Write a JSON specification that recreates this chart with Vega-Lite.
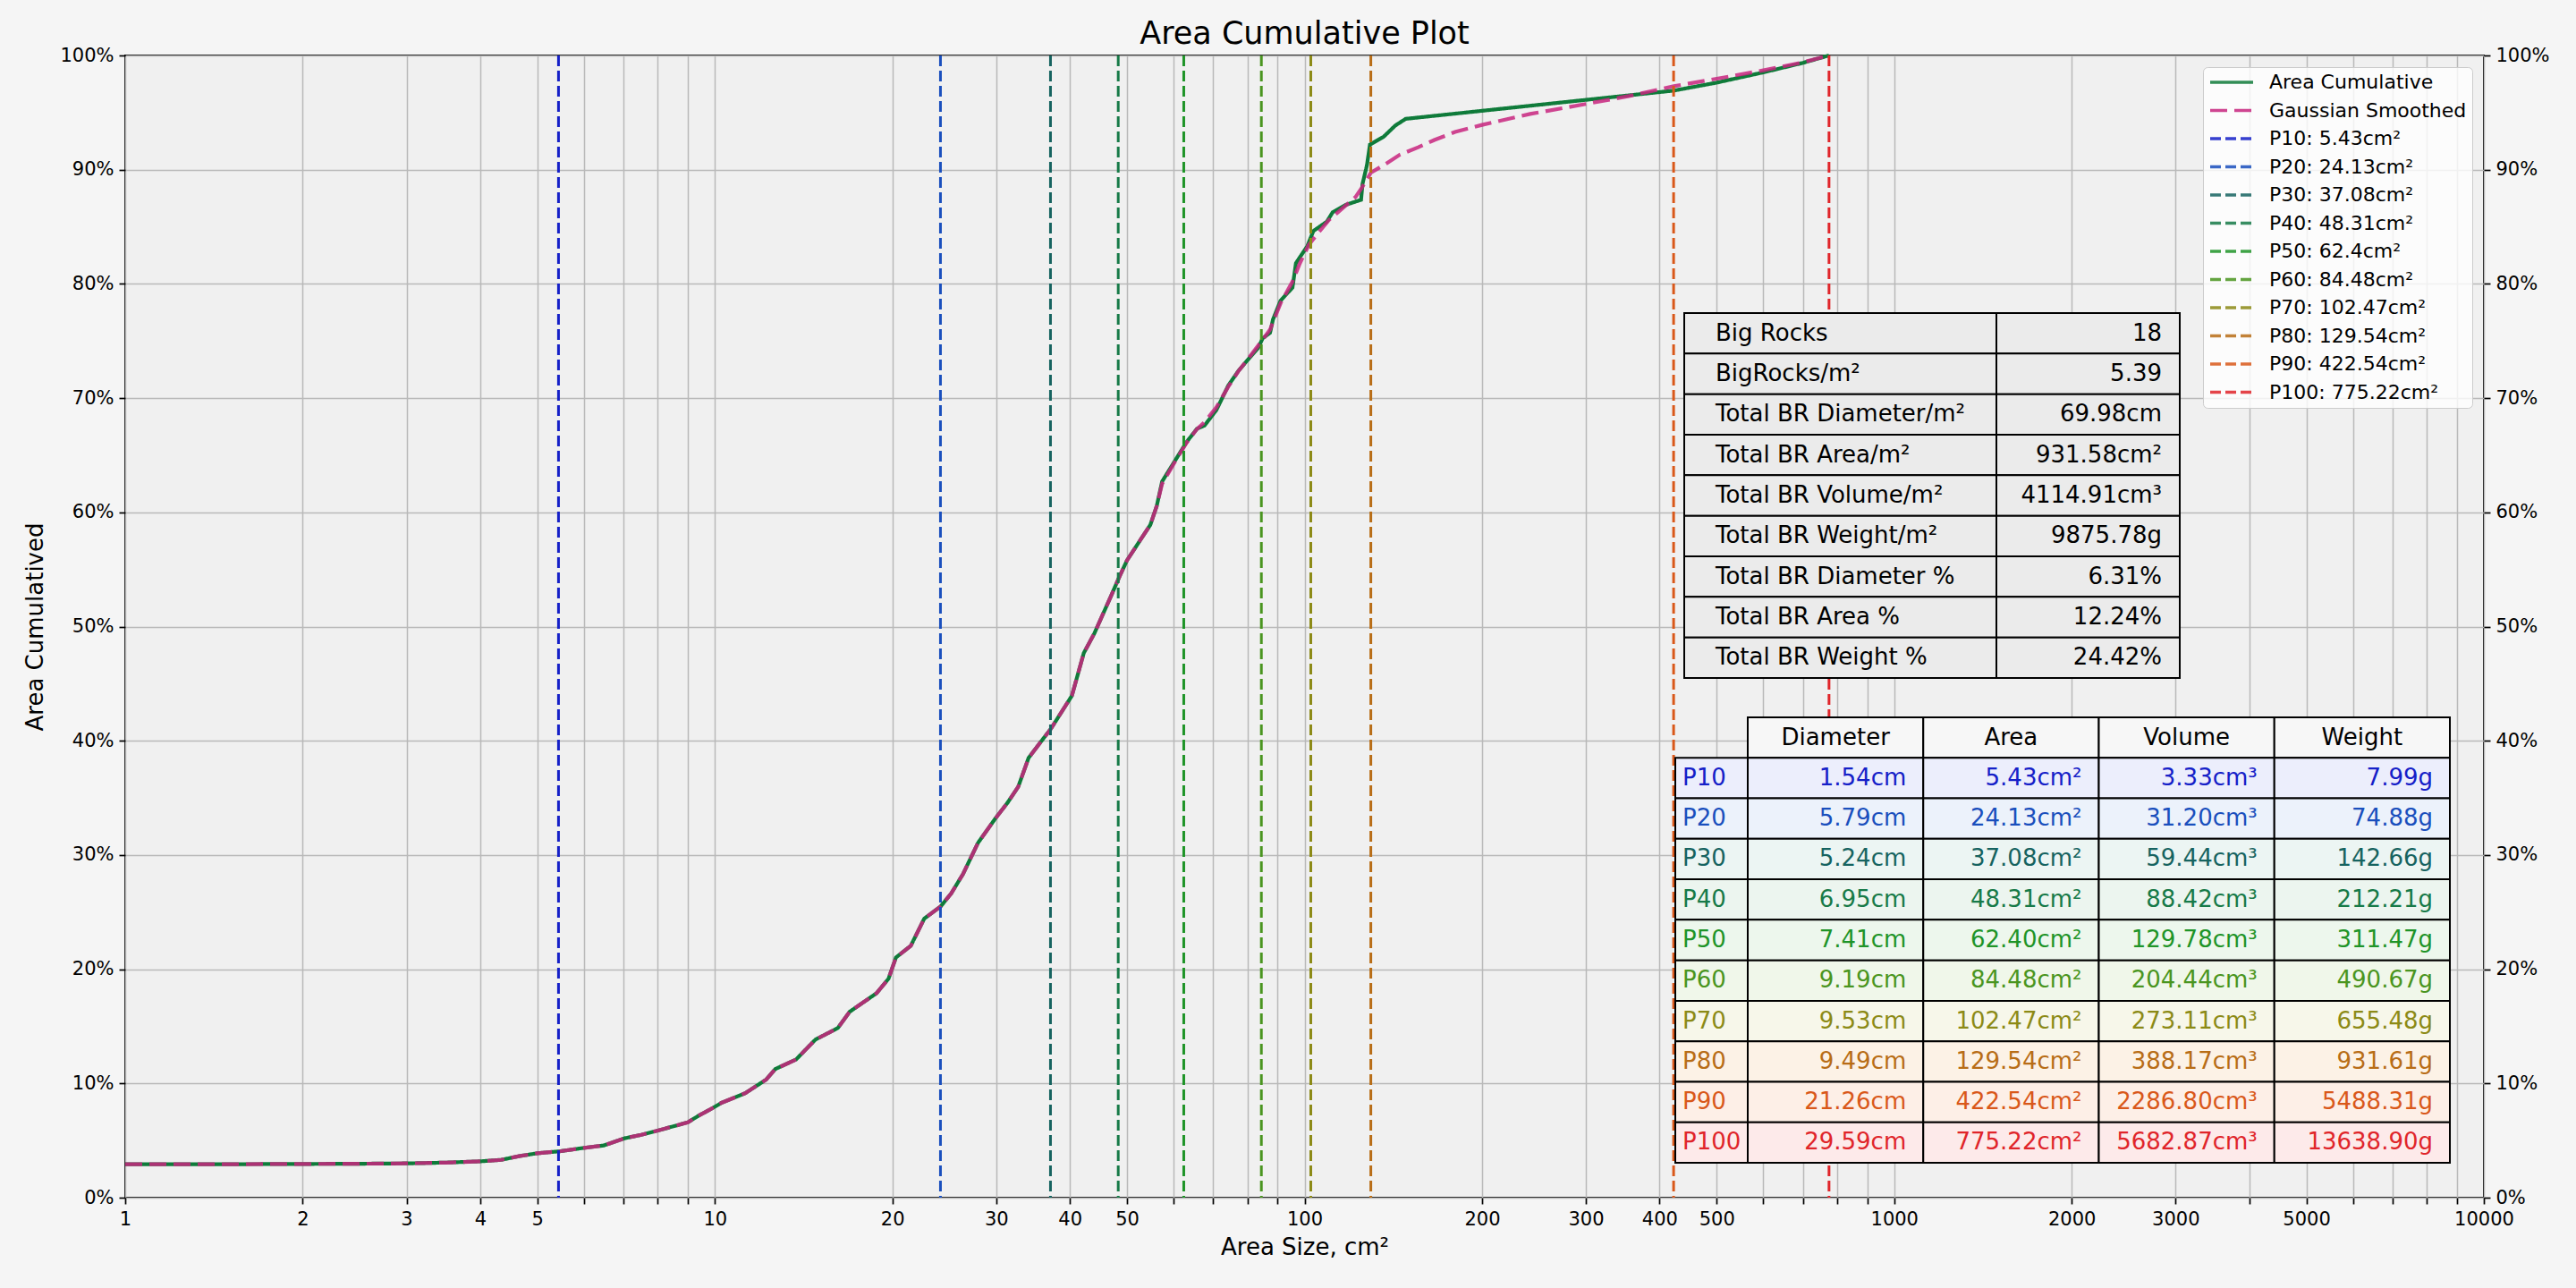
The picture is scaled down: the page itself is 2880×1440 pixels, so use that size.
{
  "$schema": "https://vega.github.io/schema/vega-lite/v6.json",
  "width": 2637,
  "height": 1277,
  "autosize": {"type": "none"},
  "padding": {"left": 140, "top": 62, "right": 103, "bottom": 101},
  "background": "#f5f5f5",
  "config": {
    "font": "DejaVu Sans",
    "view": {"fill": "#f0f0f0", "stroke": "#000000", "strokeWidth": 2},
    "axis": {
      "labelFontSize": 21,
      "labelColor": "#000000",
      "labelFont": "DejaVu Sans",
      "titleFont": "DejaVu Sans",
      "titleFontSize": 26,
      "titleFontWeight": "normal",
      "titleColor": "#000000",
      "tickColor": "#000000",
      "tickWidth": 1.7,
      "tickSize": 7,
      "labelPadding": 6,
      "domain": false,
      "gridColor": "#b9b9b9",
      "gridWidth": 1.5,
      "labelFlush": false,
      "labelOverlap": false,
      "labelBound": false
    },
    "legend": {
      "orient": "none",
      "legendX": 2323,
      "legendY": 13,
      "symbolType": "stroke",
      "symbolSize": 2304,
      "symbolStrokeWidth": 3.5,
      "clipHeight": 22,
      "labelFontSize": 22,
      "labelColor": "#000000",
      "labelFont": "DejaVu Sans",
      "labelOffset": 16,
      "rowPadding": 9.5,
      "padding": 6,
      "fillColor": "rgba(255,255,255,0.8)",
      "strokeColor": "#cccccc",
      "cornerRadius": 5,
      "labelLimit": 400
    }
  },
  "title": {"text": "Area Cumulative Plot", "fontSize": 35, "fontWeight": "normal", "color": "#000000", "offset": -5, "frame": "group", "anchor": "middle", "font": "DejaVu Sans"},
  "datasets": {
    "cum": [
      {"series": "Area Cumulative", "area": 1, "pct": 2.92}, {"series": "Area Cumulative", "area": 1.5, "pct": 2.93}, {"series": "Area Cumulative", "area": 2, "pct": 2.95}, {"series": "Area Cumulative", "area": 2.5, "pct": 2.97},
      {"series": "Area Cumulative", "area": 3, "pct": 3.0}, {"series": "Area Cumulative", "area": 3.5, "pct": 3.07}, {"series": "Area Cumulative", "area": 4, "pct": 3.18}, {"series": "Area Cumulative", "area": 4.34, "pct": 3.31},
      {"series": "Area Cumulative", "area": 4.65, "pct": 3.63}, {"series": "Area Cumulative", "area": 5.0, "pct": 3.89}, {"series": "Area Cumulative", "area": 5.44, "pct": 4.05}, {"series": "Area Cumulative", "area": 6.0, "pct": 4.36},
      {"series": "Area Cumulative", "area": 6.48, "pct": 4.57}, {"series": "Area Cumulative", "area": 7.03, "pct": 5.2}, {"series": "Area Cumulative", "area": 7.5, "pct": 5.5}, {"series": "Area Cumulative", "area": 8.0, "pct": 5.87},
      {"series": "Area Cumulative", "area": 8.72, "pct": 6.4}, {"series": "Area Cumulative", "area": 9.0, "pct": 6.6}, {"series": "Area Cumulative", "area": 9.4, "pct": 7.2}, {"series": "Area Cumulative", "area": 9.8, "pct": 7.7},
      {"series": "Area Cumulative", "area": 10.26, "pct": 8.3}, {"series": "Area Cumulative", "area": 11.26, "pct": 9.15}, {"series": "Area Cumulative", "area": 12.22, "pct": 10.34}, {"series": "Area Cumulative", "area": 12.66, "pct": 11.26},
      {"series": "Area Cumulative", "area": 13.73, "pct": 12.1}, {"series": "Area Cumulative", "area": 14.81, "pct": 13.84}, {"series": "Area Cumulative", "area": 16.16, "pct": 14.85}, {"series": "Area Cumulative", "area": 16.93, "pct": 16.28},
      {"series": "Area Cumulative", "area": 18.8, "pct": 17.9}, {"series": "Area Cumulative", "area": 19.7, "pct": 19.17}, {"series": "Area Cumulative", "area": 20.28, "pct": 21.03}, {"series": "Area Cumulative", "area": 21.49, "pct": 22.05},
      {"series": "Area Cumulative", "area": 22.65, "pct": 24.43}, {"series": "Area Cumulative", "area": 24.15, "pct": 25.5}, {"series": "Area Cumulative", "area": 25.16, "pct": 26.63}, {"series": "Area Cumulative", "area": 26.35, "pct": 28.33},
      {"series": "Area Cumulative", "area": 27.93, "pct": 31.05}, {"series": "Area Cumulative", "area": 29.95, "pct": 33.25}, {"series": "Area Cumulative", "area": 31.38, "pct": 34.6}, {"series": "Area Cumulative", "area": 32.69, "pct": 35.97},
      {"series": "Area Cumulative", "area": 34.04, "pct": 38.5}, {"series": "Area Cumulative", "area": 35.66, "pct": 39.87}, {"series": "Area Cumulative", "area": 37.15, "pct": 41.06}, {"series": "Area Cumulative", "area": 40.31, "pct": 43.94},
      {"series": "Area Cumulative", "area": 42.23, "pct": 47.68}, {"series": "Area Cumulative", "area": 43.99, "pct": 49.38}, {"series": "Area Cumulative", "area": 46.9, "pct": 52.6}, {"series": "Area Cumulative", "area": 48.57, "pct": 54.4},
      {"series": "Area Cumulative", "area": 50.0, "pct": 55.8}, {"series": "Area Cumulative", "area": 52.7, "pct": 57.6}, {"series": "Area Cumulative", "area": 54.76, "pct": 58.9}, {"series": "Area Cumulative", "area": 56.15, "pct": 60.56},
      {"series": "Area Cumulative", "area": 57.34, "pct": 62.7}, {"series": "Area Cumulative", "area": 60.57, "pct": 64.68}, {"series": "Area Cumulative", "area": 63.1, "pct": 66.16}, {"series": "Area Cumulative", "area": 65.71, "pct": 67.32},
      {"series": "Area Cumulative", "area": 67.67, "pct": 67.6}, {"series": "Area Cumulative", "area": 70.88, "pct": 68.96}, {"series": "Area Cumulative", "area": 74.24, "pct": 71.1}, {"series": "Area Cumulative", "area": 77.35, "pct": 72.43},
      {"series": "Area Cumulative", "area": 83.45, "pct": 74.4}, {"series": "Area Cumulative", "area": 84.9, "pct": 75.23}, {"series": "Area Cumulative", "area": 87.4, "pct": 75.72}, {"series": "Area Cumulative", "area": 88.4, "pct": 76.88},
      {"series": "Area Cumulative", "area": 91.05, "pct": 78.53}, {"series": "Area Cumulative", "area": 95.4, "pct": 79.68}, {"series": "Area Cumulative", "area": 96.7, "pct": 81.82}, {"series": "Area Cumulative", "area": 101.1, "pct": 83.31},
      {"series": "Area Cumulative", "area": 103.5, "pct": 84.63}, {"series": "Area Cumulative", "area": 109.1, "pct": 85.45}, {"series": "Area Cumulative", "area": 111.6, "pct": 86.27}, {"series": "Area Cumulative", "area": 117.6, "pct": 86.93},
      {"series": "Area Cumulative", "area": 124.7, "pct": 87.36}, {"series": "Area Cumulative", "area": 125.4, "pct": 88.75}, {"series": "Area Cumulative", "area": 127.6, "pct": 90.4}, {"series": "Area Cumulative", "area": 129.1, "pct": 92.2},
      {"series": "Area Cumulative", "area": 136.1, "pct": 92.87}, {"series": "Area Cumulative", "area": 142.5, "pct": 93.86}, {"series": "Area Cumulative", "area": 148.4, "pct": 94.45}, {"series": "Area Cumulative", "area": 422.5, "pct": 96.92},
      {"series": "Area Cumulative", "area": 500, "pct": 97.62}, {"series": "Area Cumulative", "area": 600, "pct": 98.52}, {"series": "Area Cumulative", "area": 700, "pct": 99.35}, {"series": "Area Cumulative", "area": 775.22, "pct": 100}
    ],
    "gauss": [
      {"series": "Gaussian Smoothed", "area": 1, "pct": 2.92}, {"series": "Gaussian Smoothed", "area": 1.5, "pct": 2.93}, {"series": "Gaussian Smoothed", "area": 2, "pct": 2.95}, {"series": "Gaussian Smoothed", "area": 2.5, "pct": 2.97},
      {"series": "Gaussian Smoothed", "area": 3, "pct": 3.0}, {"series": "Gaussian Smoothed", "area": 3.5, "pct": 3.07}, {"series": "Gaussian Smoothed", "area": 4, "pct": 3.18}, {"series": "Gaussian Smoothed", "area": 4.34, "pct": 3.31},
      {"series": "Gaussian Smoothed", "area": 4.65, "pct": 3.63}, {"series": "Gaussian Smoothed", "area": 5.0, "pct": 3.89}, {"series": "Gaussian Smoothed", "area": 5.44, "pct": 4.05}, {"series": "Gaussian Smoothed", "area": 6.0, "pct": 4.36},
      {"series": "Gaussian Smoothed", "area": 6.48, "pct": 4.57}, {"series": "Gaussian Smoothed", "area": 7.03, "pct": 5.2}, {"series": "Gaussian Smoothed", "area": 7.5, "pct": 5.5}, {"series": "Gaussian Smoothed", "area": 8.0, "pct": 5.87},
      {"series": "Gaussian Smoothed", "area": 8.72, "pct": 6.4}, {"series": "Gaussian Smoothed", "area": 9.0, "pct": 6.6}, {"series": "Gaussian Smoothed", "area": 9.4, "pct": 7.2}, {"series": "Gaussian Smoothed", "area": 9.8, "pct": 7.7},
      {"series": "Gaussian Smoothed", "area": 10.26, "pct": 8.3}, {"series": "Gaussian Smoothed", "area": 11.26, "pct": 9.15}, {"series": "Gaussian Smoothed", "area": 12.22, "pct": 10.34}, {"series": "Gaussian Smoothed", "area": 12.66, "pct": 11.26},
      {"series": "Gaussian Smoothed", "area": 13.73, "pct": 12.1}, {"series": "Gaussian Smoothed", "area": 14.81, "pct": 13.84}, {"series": "Gaussian Smoothed", "area": 16.16, "pct": 14.85}, {"series": "Gaussian Smoothed", "area": 16.93, "pct": 16.28},
      {"series": "Gaussian Smoothed", "area": 18.8, "pct": 17.9}, {"series": "Gaussian Smoothed", "area": 19.7, "pct": 19.17}, {"series": "Gaussian Smoothed", "area": 20.28, "pct": 21.03}, {"series": "Gaussian Smoothed", "area": 21.49, "pct": 22.05},
      {"series": "Gaussian Smoothed", "area": 22.65, "pct": 24.43}, {"series": "Gaussian Smoothed", "area": 24.15, "pct": 25.5}, {"series": "Gaussian Smoothed", "area": 25.16, "pct": 26.63}, {"series": "Gaussian Smoothed", "area": 26.35, "pct": 28.33},
      {"series": "Gaussian Smoothed", "area": 27.93, "pct": 31.05}, {"series": "Gaussian Smoothed", "area": 29.95, "pct": 33.25}, {"series": "Gaussian Smoothed", "area": 31.38, "pct": 34.6}, {"series": "Gaussian Smoothed", "area": 32.69, "pct": 35.97},
      {"series": "Gaussian Smoothed", "area": 34.04, "pct": 38.5}, {"series": "Gaussian Smoothed", "area": 35.66, "pct": 39.87}, {"series": "Gaussian Smoothed", "area": 37.15, "pct": 41.06}, {"series": "Gaussian Smoothed", "area": 40.31, "pct": 43.94},
      {"series": "Gaussian Smoothed", "area": 42.23, "pct": 47.68}, {"series": "Gaussian Smoothed", "area": 43.99, "pct": 49.38}, {"series": "Gaussian Smoothed", "area": 46.9, "pct": 52.6}, {"series": "Gaussian Smoothed", "area": 48.57, "pct": 54.4},
      {"series": "Gaussian Smoothed", "area": 50.0, "pct": 55.8}, {"series": "Gaussian Smoothed", "area": 52.7, "pct": 57.6}, {"series": "Gaussian Smoothed", "area": 54.76, "pct": 58.9}, {"series": "Gaussian Smoothed", "area": 56.15, "pct": 60.56},
      {"series": "Gaussian Smoothed", "area": 57.34, "pct": 62.5}, {"series": "Gaussian Smoothed", "area": 60.57, "pct": 64.6}, {"series": "Gaussian Smoothed", "area": 63.1, "pct": 66.1}, {"series": "Gaussian Smoothed", "area": 65.71, "pct": 67.3},
      {"series": "Gaussian Smoothed", "area": 67.67, "pct": 67.9}, {"series": "Gaussian Smoothed", "area": 70.88, "pct": 69.2}, {"series": "Gaussian Smoothed", "area": 74.24, "pct": 71.0}, {"series": "Gaussian Smoothed", "area": 77.35, "pct": 72.4},
      {"series": "Gaussian Smoothed", "area": 83.45, "pct": 74.6}, {"series": "Gaussian Smoothed", "area": 87.4, "pct": 76.0}, {"series": "Gaussian Smoothed", "area": 91.05, "pct": 78.3}, {"series": "Gaussian Smoothed", "area": 95.4, "pct": 80.2},
      {"series": "Gaussian Smoothed", "area": 98.0, "pct": 81.7}, {"series": "Gaussian Smoothed", "area": 101.6, "pct": 83.4}, {"series": "Gaussian Smoothed", "area": 106, "pct": 84.6}, {"series": "Gaussian Smoothed", "area": 110, "pct": 85.6},
      {"series": "Gaussian Smoothed", "area": 116.9, "pct": 86.77}, {"series": "Gaussian Smoothed", "area": 122, "pct": 87.6}, {"series": "Gaussian Smoothed", "area": 125, "pct": 88.4}, {"series": "Gaussian Smoothed", "area": 129.6, "pct": 89.74},
      {"series": "Gaussian Smoothed", "area": 137.7, "pct": 90.55}, {"series": "Gaussian Smoothed", "area": 145, "pct": 91.3}, {"series": "Gaussian Smoothed", "area": 155.9, "pct": 91.96}, {"series": "Gaussian Smoothed", "area": 166, "pct": 92.6},
      {"series": "Gaussian Smoothed", "area": 180, "pct": 93.3}, {"series": "Gaussian Smoothed", "area": 200, "pct": 93.92}, {"series": "Gaussian Smoothed", "area": 241.3, "pct": 94.88}, {"series": "Gaussian Smoothed", "area": 300, "pct": 95.75},
      {"series": "Gaussian Smoothed", "area": 355, "pct": 96.45}, {"series": "Gaussian Smoothed", "area": 423, "pct": 97.31}, {"series": "Gaussian Smoothed", "area": 500, "pct": 97.96}, {"series": "Gaussian Smoothed", "area": 600, "pct": 98.7},
      {"series": "Gaussian Smoothed", "area": 700, "pct": 99.4}, {"series": "Gaussian Smoothed", "area": 775.22, "pct": 100}
    ],
    "pcts": [
      {"series": "P10: 5.43cm²", "area": 5.43},
      {"series": "P20: 24.13cm²", "area": 24.13},
      {"series": "P30: 37.08cm²", "area": 37.08},
      {"series": "P40: 48.31cm²", "area": 48.31},
      {"series": "P50: 62.4cm²", "area": 62.4},
      {"series": "P60: 84.48cm²", "area": 84.48},
      {"series": "P70: 102.47cm²", "area": 102.47},
      {"series": "P80: 129.54cm²", "area": 129.54},
      {"series": "P90: 422.54cm²", "area": 422.54},
      {"series": "P100: 775.22cm²", "area": 775.22}
    ],
    "t1key": [
      {"row": "Big Rocks", "col": "key", "val": "Big Rocks"},
      {"row": "BigRocks/m²", "col": "key", "val": "BigRocks/m²"},
      {"row": "Total BR Diameter/m²", "col": "key", "val": "Total BR Diameter/m²"},
      {"row": "Total BR Area/m²", "col": "key", "val": "Total BR Area/m²"},
      {"row": "Total BR Volume/m²", "col": "key", "val": "Total BR Volume/m²"},
      {"row": "Total BR Weight/m²", "col": "key", "val": "Total BR Weight/m²"},
      {"row": "Total BR Diameter %", "col": "key", "val": "Total BR Diameter %"},
      {"row": "Total BR Area %", "col": "key", "val": "Total BR Area %"},
      {"row": "Total BR Weight %", "col": "key", "val": "Total BR Weight %"}
    ],
    "t1val": [
      {"row": "Big Rocks", "col": "value", "val": "18"},
      {"row": "BigRocks/m²", "col": "value", "val": "5.39"},
      {"row": "Total BR Diameter/m²", "col": "value", "val": "69.98cm"},
      {"row": "Total BR Area/m²", "col": "value", "val": "931.58cm²"},
      {"row": "Total BR Volume/m²", "col": "value", "val": "4114.91cm³"},
      {"row": "Total BR Weight/m²", "col": "value", "val": "9875.78g"},
      {"row": "Total BR Diameter %", "col": "value", "val": "6.31%"},
      {"row": "Total BR Area %", "col": "value", "val": "12.24%"},
      {"row": "Total BR Weight %", "col": "value", "val": "24.42%"}
    ],
    "t2lab": [
      {"row": "P10", "col": "label", "val": "P10"},
      {"row": "P20", "col": "label", "val": "P20"},
      {"row": "P30", "col": "label", "val": "P30"},
      {"row": "P40", "col": "label", "val": "P40"},
      {"row": "P50", "col": "label", "val": "P50"},
      {"row": "P60", "col": "label", "val": "P60"},
      {"row": "P70", "col": "label", "val": "P70"},
      {"row": "P80", "col": "label", "val": "P80"},
      {"row": "P90", "col": "label", "val": "P90"},
      {"row": "P100", "col": "label", "val": "P100"}
    ],
    "t2head": [
      {"row": "hdr", "col": "Diameter", "val": "Diameter"},
      {"row": "hdr", "col": "Area", "val": "Area"},
      {"row": "hdr", "col": "Volume", "val": "Volume"},
      {"row": "hdr", "col": "Weight", "val": "Weight"}
    ],
    "t2cells": [
      {"row": "P10", "col": "Diameter", "val": "1.54cm"}, {"row": "P10", "col": "Area", "val": "5.43cm²"}, {"row": "P10", "col": "Volume", "val": "3.33cm³"}, {"row": "P10", "col": "Weight", "val": "7.99g"},
      {"row": "P20", "col": "Diameter", "val": "5.79cm"}, {"row": "P20", "col": "Area", "val": "24.13cm²"}, {"row": "P20", "col": "Volume", "val": "31.20cm³"}, {"row": "P20", "col": "Weight", "val": "74.88g"},
      {"row": "P30", "col": "Diameter", "val": "5.24cm"}, {"row": "P30", "col": "Area", "val": "37.08cm²"}, {"row": "P30", "col": "Volume", "val": "59.44cm³"}, {"row": "P30", "col": "Weight", "val": "142.66g"},
      {"row": "P40", "col": "Diameter", "val": "6.95cm"}, {"row": "P40", "col": "Area", "val": "48.31cm²"}, {"row": "P40", "col": "Volume", "val": "88.42cm³"}, {"row": "P40", "col": "Weight", "val": "212.21g"},
      {"row": "P50", "col": "Diameter", "val": "7.41cm"}, {"row": "P50", "col": "Area", "val": "62.40cm²"}, {"row": "P50", "col": "Volume", "val": "129.78cm³"}, {"row": "P50", "col": "Weight", "val": "311.47g"},
      {"row": "P60", "col": "Diameter", "val": "9.19cm"}, {"row": "P60", "col": "Area", "val": "84.48cm²"}, {"row": "P60", "col": "Volume", "val": "204.44cm³"}, {"row": "P60", "col": "Weight", "val": "490.67g"},
      {"row": "P70", "col": "Diameter", "val": "9.53cm"}, {"row": "P70", "col": "Area", "val": "102.47cm²"}, {"row": "P70", "col": "Volume", "val": "273.11cm³"}, {"row": "P70", "col": "Weight", "val": "655.48g"},
      {"row": "P80", "col": "Diameter", "val": "9.49cm"}, {"row": "P80", "col": "Area", "val": "129.54cm²"}, {"row": "P80", "col": "Volume", "val": "388.17cm³"}, {"row": "P80", "col": "Weight", "val": "931.61g"},
      {"row": "P90", "col": "Diameter", "val": "21.26cm"}, {"row": "P90", "col": "Area", "val": "422.54cm²"}, {"row": "P90", "col": "Volume", "val": "2286.80cm³"}, {"row": "P90", "col": "Weight", "val": "5488.31g"},
      {"row": "P100", "col": "Diameter", "val": "29.59cm"}, {"row": "P100", "col": "Area", "val": "775.22cm²"}, {"row": "P100", "col": "Volume", "val": "5682.87cm³"}, {"row": "P100", "col": "Weight", "val": "13638.90g"}
    ]
  },
  "resolve": {"scale": {"x": "independent", "y": "independent", "color": "independent", "fill": "independent", "strokeDash": "independent"}},
  "layer": [
    {
      "resolve": {"axis": {"y": "independent"}},
      "layer": [
        {
          "data": {"name": "cum"},
          "mark": {"type": "line", "strokeWidth": 4.2},
          "encoding": {
            "x": {
              "field": "area", "type": "quantitative",
              "scale": {"type": "log", "domain": [1, 10000], "nice": false},
              "axis": {
                "title": "Area Size, cm²",
                "titlePadding": 8,
                "grid": true,
                "values": [1,2,3,4,5,6,7,8,9,10,20,30,40,50,60,70,80,90,100,200,300,400,500,600,700,800,900,1000,2000,3000,4000,5000,6000,7000,8000,9000,10000],
                "labelExpr": "indexof([1,2,3,4,5,10,20,30,40,50,100,200,300,400,500,1000,2000,3000,5000,10000], datum.value) >= 0 ? format(datum.value, 'd') : ''"
              }
            },
            "y": {
              "field": "pct", "type": "quantitative",
              "scale": {"domain": [0, 100], "nice": false},
              "axis": {
                "orient": "left",
                "title": "Area Cumulatived",
                "titlePadding": 14,
                "grid": true,
                "values": [0,10,20,30,40,50,60,70,80,90,100],
                "labelExpr": "datum.value + '%'"
              }
            },
            "color": {
              "field": "series", "type": "nominal", "title": null,
              "scale": {
                "domain": ["Area Cumulative", "Gaussian Smoothed", "P10: 5.43cm²", "P20: 24.13cm²", "P30: 37.08cm²", "P40: 48.31cm²", "P50: 62.4cm²", "P60: 84.48cm²", "P70: 102.47cm²", "P80: 129.54cm²", "P90: 422.54cm²", "P100: 775.22cm²"],
                "range": ["#0f7b3a", "#c8267f", "#1520c8", "#1a4fbd", "#166360", "#177a48", "#1f9428", "#4a9520", "#8c8a16", "#b86d16", "#d9581a", "#e0252a"]
              }
            },
            "strokeDash": {
              "field": "series", "type": "nominal", "title": null,
              "scale": {
                "domain": ["Area Cumulative", "Gaussian Smoothed", "P10: 5.43cm²", "P20: 24.13cm²", "P30: 37.08cm²", "P40: 48.31cm²", "P50: 62.4cm²", "P60: 84.48cm²", "P70: 102.47cm²", "P80: 129.54cm²", "P90: 422.54cm²", "P100: 775.22cm²"],
                "range": [[1, 0], [19, 8], [12, 5], [12, 5], [12, 5], [12, 5], [12, 5], [12, 5], [12, 5], [12, 5], [12, 5], [12, 5]]
              }
            }
          }
        },
        {
          "data": {"name": "gauss"},
          "mark": {"type": "line", "strokeWidth": 4.2, "opacity": 0.85},
          "encoding": {
            "x": {"field": "area", "type": "quantitative"},
            "y": {
              "field": "pct", "type": "quantitative",
              "axis": {
                "orient": "right",
                "title": null,
                "grid": false,
                "values": [0,10,20,30,40,50,60,70,80,90,100],
                "labelExpr": "datum.value + '%'"
              }
            },
            "color": {"field": "series", "type": "nominal", "title": null},
            "strokeDash": {"field": "series", "type": "nominal", "title": null}
          }
        },
        {
          "data": {"name": "pcts"},
          "mark": {"type": "rule", "strokeWidth": 3},
          "encoding": {
            "x": {"field": "area", "type": "quantitative"},
            "color": {"field": "series", "type": "nominal", "title": null},
            "strokeDash": {"field": "series", "type": "nominal", "title": null}
          }
        }
      ]
    },
    {
      "resolve": {"scale": {"x": "independent"}},
      "layer": [
        {
          "data": {"name": "t1key"},
          "layer": [
            {
              "mark": {"type": "rect", "fill": "#ebebeb", "stroke": "#000000", "strokeWidth": 2},
              "encoding": {
                "x": {"field": "col", "type": "nominal", "axis": null, "scale": {"type": "band", "domain": ["key"], "range": [1743, 2092], "paddingInner": 0, "paddingOuter": 0}},
                "y": {"field": "row", "type": "nominal", "axis": null, "scale": {"type": "band", "domain": ["Big Rocks", "BigRocks/m²", "Total BR Diameter/m²", "Total BR Area/m²", "Total BR Volume/m²", "Total BR Weight/m²", "Total BR Diameter %", "Total BR Area %", "Total BR Weight %"], "range": [288, 696], "paddingInner": 0, "paddingOuter": 0}}
              }
            },
            {
              "mark": {"type": "text", "align": "left", "baseline": "middle", "dx": 35, "fontSize": 26, "color": "#000000"},
              "encoding": {
                "x": {"field": "col", "type": "nominal", "axis": null, "bandPosition": 0},
                "y": {"field": "row", "type": "nominal", "axis": null},
                "text": {"field": "val"}
              }
            }
          ]
        },
        {
          "data": {"name": "t1val"},
          "layer": [
            {
              "mark": {"type": "rect", "fill": "#ebebeb", "stroke": "#000000", "strokeWidth": 2},
              "encoding": {
                "x": {"field": "col", "type": "nominal", "axis": null, "scale": {"type": "band", "domain": ["value"], "range": [2092, 2297], "paddingInner": 0, "paddingOuter": 0}},
                "y": {"field": "row", "type": "nominal", "axis": null}
              }
            },
            {
              "mark": {"type": "text", "align": "right", "baseline": "middle", "dx": -20, "fontSize": 26, "color": "#000000"},
              "encoding": {
                "x": {"field": "col", "type": "nominal", "axis": null, "bandPosition": 1},
                "y": {"field": "row", "type": "nominal", "axis": null},
                "text": {"field": "val"}
              }
            }
          ]
        }
      ]
    },
    {
      "resolve": {"scale": {"x": "independent"}},
      "layer": [
        {
          "data": {"name": "t2lab"},
          "layer": [
            {
              "mark": {"type": "rect", "stroke": "#000000", "strokeWidth": 2},
              "encoding": {
                "x": {"field": "col", "type": "nominal", "axis": null, "scale": {"type": "band", "domain": ["label"], "range": [1733, 1814], "paddingInner": 0, "paddingOuter": 0}},
                "y": {"field": "row", "type": "nominal", "axis": null, "scale": {"type": "band", "domain": ["hdr", "P10", "P20", "P30", "P40", "P50", "P60", "P70", "P80", "P90", "P100"], "range": [740, 1238], "paddingInner": 0, "paddingOuter": 0}},
                "fill": {"field": "row", "type": "nominal", "legend": null, "scale": {"domain": ["hdr", "P10", "P20", "P30", "P40", "P50", "P60", "P70", "P80", "P90", "P100"], "range": ["#f7f7f7", "#eceefc", "#ecf2fb", "#ecf5f3", "#ecf5ef", "#edf7ed", "#f0f7ea", "#f7f7ea", "#fcf2e6", "#fdefe7", "#fdeaea"]}}
              }
            },
            {
              "mark": {"type": "text", "align": "left", "baseline": "middle", "dx": 8, "fontSize": 26},
              "encoding": {
                "x": {"field": "col", "type": "nominal", "axis": null, "bandPosition": 0},
                "y": {"field": "row", "type": "nominal", "axis": null},
                "text": {"field": "val"},
                "color": {"field": "row", "type": "nominal", "legend": null, "scale": {"domain": ["hdr", "P10", "P20", "P30", "P40", "P50", "P60", "P70", "P80", "P90", "P100"], "range": ["#000000", "#1520c8", "#1a4fbd", "#166360", "#177a48", "#1f9428", "#4a9520", "#8c8a16", "#b86d16", "#d9581a", "#e0252a"]}}
              }
            }
          ]
        },
        {
          "layer": [
            {
              "data": {"name": "t2head"},
              "mark": {"type": "rect", "stroke": "#000000", "strokeWidth": 2},
              "encoding": {
                "x": {"field": "col", "type": "nominal", "axis": null, "scale": {"type": "band", "domain": ["Diameter", "Area", "Volume", "Weight"], "range": [1814, 2599], "paddingInner": 0, "paddingOuter": 0}},
                "y": {"field": "row", "type": "nominal", "axis": null},
                "fill": {"field": "row", "type": "nominal", "legend": null}
              }
            },
            {
              "data": {"name": "t2head"},
              "mark": {"type": "text", "align": "center", "baseline": "middle", "fontSize": 26},
              "encoding": {
                "x": {"field": "col", "type": "nominal", "axis": null},
                "y": {"field": "row", "type": "nominal", "axis": null},
                "text": {"field": "val"},
                "color": {"field": "row", "type": "nominal", "legend": null}
              }
            },
            {
              "data": {"name": "t2cells"},
              "mark": {"type": "rect", "stroke": "#000000", "strokeWidth": 2},
              "encoding": {
                "x": {"field": "col", "type": "nominal", "axis": null},
                "y": {"field": "row", "type": "nominal", "axis": null},
                "fill": {"field": "row", "type": "nominal", "legend": null}
              }
            },
            {
              "data": {"name": "t2cells"},
              "mark": {"type": "text", "align": "right", "baseline": "middle", "dx": -19, "fontSize": 26},
              "encoding": {
                "x": {"field": "col", "type": "nominal", "axis": null, "bandPosition": 1},
                "y": {"field": "row", "type": "nominal", "axis": null},
                "text": {"field": "val"},
                "color": {"field": "row", "type": "nominal", "legend": null}
              }
            }
          ]
        }
      ]
    }
  ]
}
